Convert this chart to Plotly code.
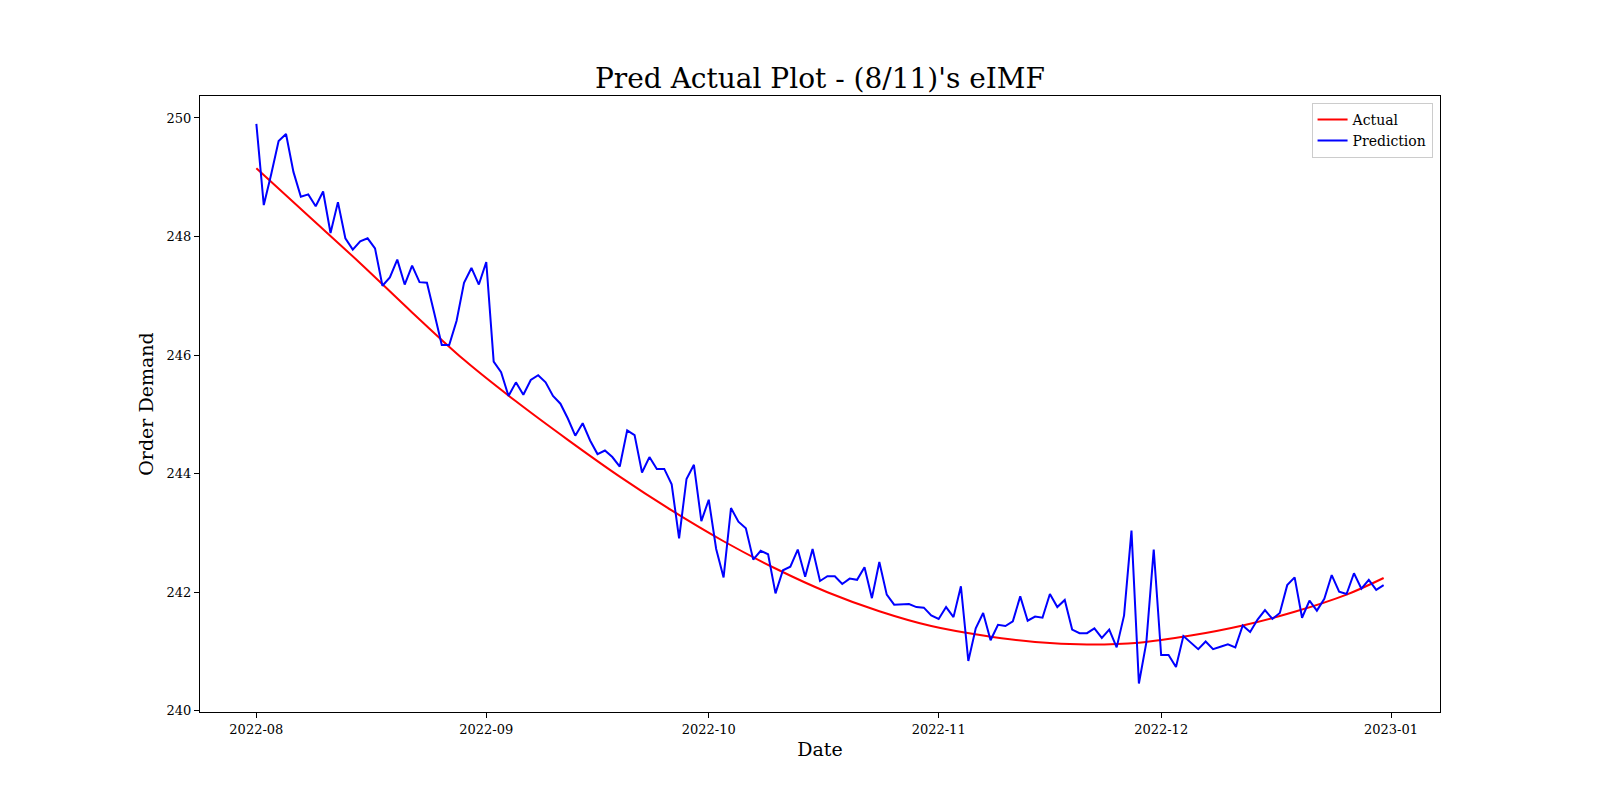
import pandas as pd
import plotly.graph_objects as go

# daily prediction, 2022-08-01 .. 2022-12-31
dates = pd.date_range("2022-08-01", "2022-12-31", freq="D")

pred_aug = [249.90, 248.53, 249.05, 249.61, 249.73, 249.09, 248.67, 248.71, 248.51, 248.76,
            248.06, 248.58, 247.97, 247.78, 247.92, 247.97, 247.80, 247.17, 247.31, 247.61,
            247.19, 247.51, 247.23, 247.22, 246.70, 246.17, 246.17, 246.58, 247.22, 247.47,
            247.19]
pred_sep = [247.57, 245.89, 245.71, 245.31, 245.54, 245.33, 245.58, 245.66, 245.54, 245.31,
            245.18, 244.93, 244.64, 244.85, 244.56, 244.33, 244.39, 244.28, 244.12, 244.73,
            244.65, 244.02, 244.28, 244.08, 244.08, 243.82, 242.91, 243.91, 244.15, 243.20]
pred_oct = [243.56, 242.73, 242.25, 243.42, 243.19, 243.08, 242.55, 242.70, 242.64, 241.98,
            242.37, 242.43, 242.72, 242.26, 242.73, 242.19, 242.27, 242.27, 242.14, 242.23,
            242.21, 242.42, 241.90, 242.51, 241.96, 241.79, 241.79, 241.80, 241.75, 241.74,
            241.61]
pred_nov = [241.55, 241.75, 241.58, 242.10, 240.84, 241.39, 241.65, 241.19, 241.45, 241.43,
            241.51, 241.93, 241.52, 241.59, 241.57, 241.97, 241.75, 241.87, 241.37, 241.31,
            241.31, 241.39, 241.23, 241.37, 241.07, 241.61, 243.04, 240.46, 241.15, 242.72]
pred_dec = [240.94, 240.94, 240.74, 241.26, 241.15, 241.04, 241.17, 241.04, 241.08, 241.12,
            241.07, 241.44, 241.33, 241.54, 241.70, 241.55, 241.65, 242.12, 242.25, 241.57,
            241.86, 241.69, 241.89, 242.29, 242.01, 241.97, 242.32, 242.06, 242.21, 242.04,
            242.12]
prediction = pred_aug + pred_sep + pred_oct + pred_nov + pred_dec

# actual (smooth curve) read at weekly points
actual_dates = ["2022-08-01", "2022-08-08", "2022-08-15", "2022-08-22", "2022-08-29",
                "2022-09-05", "2022-09-12", "2022-09-19", "2022-09-26", "2022-10-03",
                "2022-10-10", "2022-10-17", "2022-10-24", "2022-10-31", "2022-11-07",
                "2022-11-14", "2022-11-21", "2022-11-28", "2022-12-05", "2022-12-12",
                "2022-12-19", "2022-12-26", "2022-12-31"]
actual = [249.15, 248.35, 247.55, 246.72, 245.92, 245.22, 244.57, 243.95, 243.38, 242.86,
          242.40, 242.00, 241.68, 241.43, 241.27, 241.16, 241.12, 241.15, 241.27, 241.44,
          241.67, 241.96, 242.24]

font = "DejaVu Serif"

fig = go.Figure()
fig.add_trace(go.Scatter(x=actual_dates, y=actual, mode="lines", name="Actual",
                         line=dict(color="red", width=2, shape="spline")))
fig.add_trace(go.Scatter(x=dates, y=prediction, mode="lines", name="Prediction",
                         line=dict(color="blue", width=2)))

axis_common = dict(showline=True, linecolor="black", linewidth=1, mirror=True,
                   ticks="outside", ticklen=5, tickcolor="black", showgrid=False,
                   zeroline=False, tickfont=dict(family=font, size=13, color="black"))

# page body adds an 8px offset, so margins are shifted to compensate
fig.update_layout(
    width=1600, height=800,
    paper_bgcolor="white", plot_bgcolor="white",
    margin=dict(l=192, r=168, t=88, b=96),
    font=dict(family=font, color="black"),
    title=dict(text="Pred Actual Plot - (8/11)'s eIMF", x=0.5075, xanchor="center",
               y=0.912, yanchor="middle", yref="container",
               font=dict(family=font, size=28, color="black")),
    xaxis=dict(axis_common, title=dict(text="Date", font=dict(family=font, size=19), standoff=7),
               range=["2022-07-24 09:36", "2023-01-07 14:24"],
               tickformat="%Y-%m", dtick="M1", tick0="2022-08-01"),
    yaxis=dict(axis_common, title=dict(text="Order Demand", font=dict(family=font, size=19), standoff=7),
               range=[239.98, 250.37], tickvals=[240, 242, 244, 246, 248, 250]),
    legend=dict(x=0.994, y=0.989, xanchor="right", yanchor="top",
                bordercolor="#cccccc", borderwidth=1, bgcolor="rgba(255,255,255,0.8)",
                font=dict(family=font, size=14, color="black")),
    showlegend=True,
)

fig.write_html("out.html")
